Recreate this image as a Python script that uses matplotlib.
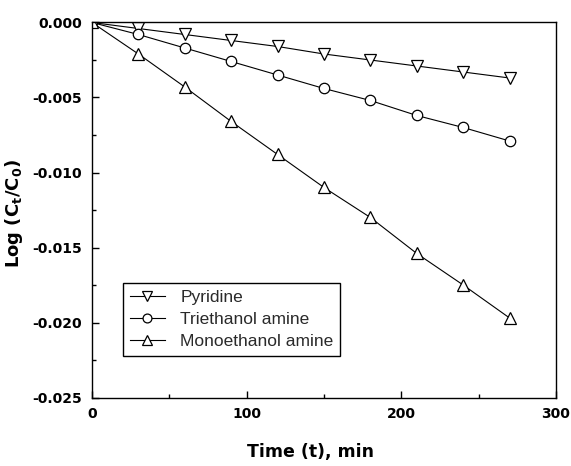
import matplotlib
matplotlib.use("Agg")
import matplotlib.pyplot as plt
from matplotlib.ticker import MultipleLocator, FuncFormatter

time_min = [0, 30, 60, 90, 120, 150, 180, 210, 240, 270]
pyridine = [0, -0.0004, -0.0008, -0.0012, -0.0016, -0.0021, -0.0025, -0.0029, -0.0033, -0.0037]
triethanol = [0, -0.0008, -0.0017, -0.0026, -0.0035, -0.0044, -0.0052, -0.0062, -0.0070, -0.0079]
monoethanol = [0, -0.0021, -0.0043, -0.0066, -0.0088, -0.0110, -0.0130, -0.0154, -0.0175, -0.0197]
labels = ["Pyridine", "Triethanol amine", "Monoethanol amine"]

fig = plt.figure(figsize=(5.71, 4.66), dpi=100)
ax = fig.add_axes([92/571, 1-397.5/466, (556-92)/571, (397.5-22.5)/466])

common = dict(color="black", lw=0.8, mfc="white", mec="black", mew=0.9)
ax.plot(time_min, pyridine, marker="v", ms=8.5, label=labels[0], **common)
ax.plot(time_min, triethanol, marker="o", ms=7.5, label=labels[1], **common)
ax.plot(time_min, monoethanol, marker="^", ms=8.5, label=labels[2], **common)

ax.set_xlim(0, 300)
ax.set_ylim(-0.025, 0.0)
ax.xaxis.set_major_locator(MultipleLocator(100))
ax.xaxis.set_minor_locator(MultipleLocator(50))
ax.yaxis.set_major_locator(MultipleLocator(0.005))
ax.yaxis.set_minor_locator(MultipleLocator(0.0025))
ax.yaxis.set_major_formatter(FuncFormatter(lambda v, p: "0.000" if abs(v) < 1e-12 else "%.3f" % v))

ax.tick_params(which="major", direction="in", length=5, width=1, top=False, right=False, pad=7)
ax.tick_params(which="minor", direction="in", length=3, width=1, top=False, right=False)
for lab in ax.get_xticklabels() + ax.get_yticklabels():
    lab.set_fontfamily("DejaVu Sans")
    lab.set_fontweight("bold")
    lab.set_fontsize(10)
for s in ax.spines.values():
    s.set_linewidth(1.0)

ax.set_xlabel("Time (t), min", fontsize=12.5, fontweight="bold")
ax.xaxis.set_label_coords(0.47, -0.12)
ax.set_ylabel("Log (C$_\\mathbf{t}$/C$_\\mathbf{0}$)", fontsize=13, fontweight="bold")
ax.yaxis.set_label_coords(-0.145, 0.49)

leg = ax.legend(loc="upper left", bbox_to_anchor=((123-92)/464, 1-(283-22.5)/375),
                frameon=True, fancybox=False, edgecolor="black", framealpha=1,
                prop={"family": "Liberation Sans", "size": 12.5}, handlelength=2.0,
                markerscale=0.85,
                borderpad=0.4, labelspacing=0.4, handletextpad=0.9, borderaxespad=0)
leg.get_frame().set_linewidth(1.0)
for t in leg.get_texts():
    t.set_color("#2a2a2a")

fig.savefig("out.png", dpi=100)
